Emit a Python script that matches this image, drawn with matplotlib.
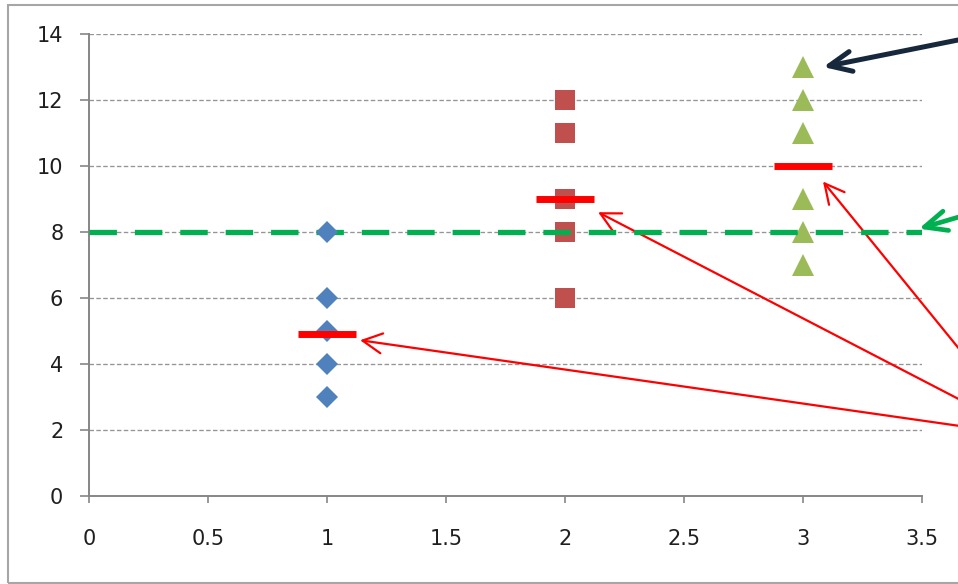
import numpy as np
import matplotlib.pyplot as plt
from matplotlib.patches import Rectangle

# group values (x position -> observations)
x_a, vals_a = 1, [8, 6, 5, 4, 3]
x_b, vals_b = 2, [12, 11, 9, 8, 6]
x_c, vals_c = 3, [13, 12, 11, 9, 8, 7]
means = [4.9, 9, 10]
mean_x = [1, 2, 3]
ref_level = 8

xticks = [0, 0.5, 1, 1.5, 2, 2.5, 3, 3.5]
yticks = [0, 2, 4, 6, 8, 10, 12, 14]

plt.rcParams['font.family'] = ['DejaVu Sans']

W, H = 958, 584
fig = plt.figure(figsize=(W / 100, H / 100), dpi=100)
fig.patch.set_facecolor('white')
ax = fig.add_axes([89 / W, (H - 496) / H, (922 - 89) / W, (496 - 34) / H])

# outer chart frame (cut off on the right)
fig.patches.append(Rectangle((8 / W, 1 / H), 1.2, (H - 6) / H, transform=fig.transFigure,
                             fill=False, edgecolor='#a6a6a6', linewidth=1.5, zorder=0))

grid_c = '#959595'
for yv in yticks[1:]:
    ax.axhline(yv, color=grid_c, linewidth=0.95, linestyle=(0, (3.4, 1.8)), zorder=1)

ax.plot([x_b] * len(vals_b), vals_b, linestyle='none', marker='s', markersize=15,
        color='#c0504d', markeredgewidth=0, zorder=3)
ax.plot([x_c] * len(vals_c), vals_c, linestyle='none', marker='^', markersize=15.5,
        color='#9bbb59', markeredgewidth=0, zorder=3)

ax.plot([0, 3.5], [ref_level, ref_level], color='#00b050', linewidth=3.8,
        linestyle=(0, (5.2, 3.4)), solid_capstyle='butt', zorder=4)

ax.plot([x_a] * len(vals_a), vals_a, linestyle='none', marker='D', markersize=11.5,
        color='#4f81bd', markeredgewidth=0, zorder=5)

half = 0.121
ax.hlines(means, np.array(mean_x) - half, np.array(mean_x) + half, color='#ff0000',
          linewidth=5, zorder=6)

ax.set_xlim(0, 3.5)
ax.set_ylim(0, 14)
ax.set_xticks(xticks)
ax.set_xticklabels(['0', '0.5', '1', '1.5', '2', '2.5', '3', '3.5'])
ax.set_yticks(yticks)
for s in ['top', 'right']:
    ax.spines[s].set_visible(False)
for s in ['left', 'bottom']:
    ax.spines[s].set_color('#868686')
    ax.spines[s].set_linewidth(1.4)
ax.tick_params(axis='y', direction='out', length=6.5, width=1.2, color='#868686',
               pad=12, labelsize=15, labelcolor='#1f1f1f')
ax.tick_params(axis='x', direction='out', length=5, width=1.2, color='#868686',
               pad=19, labelsize=15, labelcolor='#1f1f1f')

# annotation arrows coming in from the (cropped) labels on the right
def arrow(tip, start, color, lw, hl, hw):
    ax.annotate('', xy=tip, xycoords='data', xytext=start, textcoords='figure pixels',
                annotation_clip=False,
                arrowprops=dict(arrowstyle=f'->, head_length={hl}, head_width={hw}',
                                color=color, linewidth=lw, shrinkA=0, shrinkB=0,
                                mutation_scale=20, capstyle='round', joinstyle='round'))

arrow((x_c + 0.085, vals_c[0]), (1010, H - 29.6), '#17283c', 3.6, 0.8, 0.36)
arrow((3.487, ref_level + 0.1), (1010, H - 202), '#00b050', 3.4, 0.8, 0.36)
red_src = (1030, H - 436)
arrow((mean_x[0] + 0.139, means[0] - 0.18), red_src, '#ff0000', 1.6, 0.7, 0.36)
arrow((mean_x[1] + 0.139, means[1] - 0.4), red_src, '#ff0000', 1.6, 0.7, 0.36)
arrow((mean_x[2] + 0.084, means[2] - 0.47), red_src, '#ff0000', 1.6, 0.7, 0.36)

fig.savefig('out.png', dpi=100)
